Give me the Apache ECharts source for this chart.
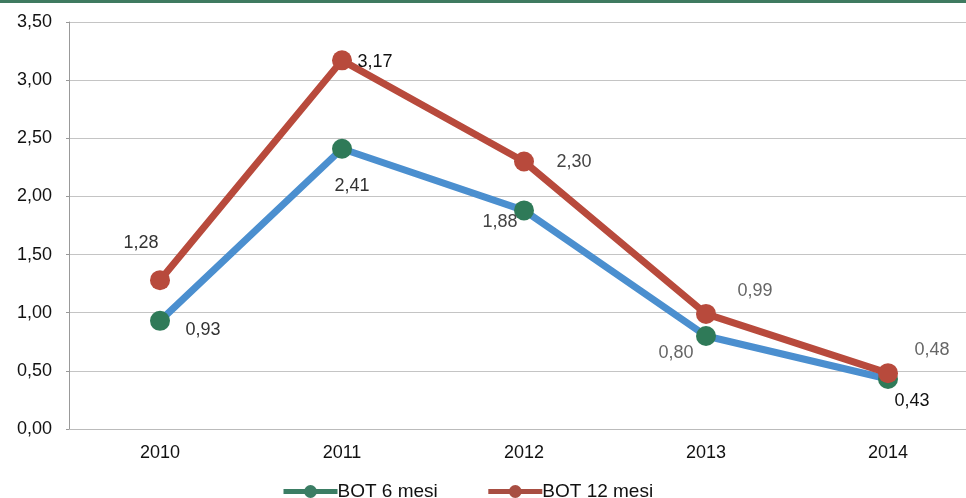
<!DOCTYPE html>
<html>
<head>
<meta charset="utf-8">
<script src="https://cdn.jsdelivr.net/npm/echarts@6/dist/echarts.min.js"></script>
<style>
  html, body { margin: 0; padding: 0; background: #fff; }
  #chart { width: 966px; height: 498px; }
</style>
</head>
<body>
<div id="chart"></div>
<script>
// dati
const anni = ['2010', '2011', '2012', '2013', '2014'];
const bot6 = [0.93, 2.41, 1.88, 0.80, 0.43];
const bot12 = [1.28, 3.17, 2.30, 0.99, 0.48];
const nomi = ['BOT 6 mesi', 'BOT 12 mesi'];

// spostamento delle etichette rispetto al punto (solo stile)
const off6 = [[43, 9], [10, 37], [-24, 12], [-30, 17], [24, 22]];
const off12 = [[-19, -37], [33, 2], [50, 0], [49, -23], [44, -23]];
const col6 = ['#333', '#333', '#444', '#666', '#111'];
const col12 = ['#333', '#111', '#444', '#666', '#666'];

const fmt = v => v.toFixed(2).replace('.', ',');

function punti(valori, offsets, col) {
  return valori.map((v, i) => ({
    value: v,
    label: { offset: offsets[i], color: col[i] }
  }));
}

const chart = echarts.init(document.getElementById('chart'));
chart.setOption({
  animation: false,
  textStyle: { fontFamily: 'Liberation Sans, Arial, sans-serif' },
  graphic: [{
    type: 'rect', left: 0, top: 0,
    shape: { width: 966, height: 3 },
    style: { fill: '#3f7a60' }
  }],
  grid: { left: 69, top: 22, width: 910, height: 407, outerBoundsMode: 'none' },
  legend: {
    left: 276, top: 477,
    itemWidth: 54, itemHeight: 16, itemGap: 48,
    textStyle: { fontSize: 19, color: '#111', padding: [0, 0, 0, -5] },
    data: [
      { name: nomi[0], lineStyle: { color: '#3b7d64', width: 5 }, itemStyle: { color: '#3b7d64' } },
      { name: nomi[1], lineStyle: { color: '#a84e42', width: 5 }, itemStyle: { color: '#a84e42' } }
    ]
  },
  xAxis: {
    type: 'category',
    data: anni,
    boundaryGap: true,
    axisLine: { lineStyle: { color: '#bbb' } },
    axisTick: { show: false },
    axisLabel: { color: '#111', fontSize: 18, margin: 15 }
  },
  yAxis: {
    type: 'value',
    min: 0, max: 3.5, interval: 0.5,
    axisLine: { show: true, lineStyle: { color: '#999' } },
    axisTick: { show: true, length: 3, lineStyle: { color: '#999' } },
    axisLabel: { color: '#111', fontSize: 18, margin: 17, formatter: fmt },
    splitLine: { lineStyle: { color: '#c4c4c4', width: 1 } }
  },
  series: [
    {
      name: nomi[0],
      type: 'line',
      data: punti(bot6, off6, col6),
      lineStyle: { color: '#4b8fcf', width: 7 },
      itemStyle: { color: '#2f7a58' },
      symbol: 'circle', symbolSize: 20,
      label: { show: true, position: 'inside', fontSize: 18, formatter: p => fmt(p.value) }
    },
    {
      name: nomi[1],
      type: 'line',
      data: punti(bot12, off12, col12),
      lineStyle: { color: '#b84a3c', width: 7 },
      itemStyle: { color: '#b84a3c' },
      symbol: 'circle', symbolSize: 20,
      label: { show: true, position: 'inside', fontSize: 18, formatter: p => fmt(p.value) }
    }
  ]
});
</script>
</body>
</html>
